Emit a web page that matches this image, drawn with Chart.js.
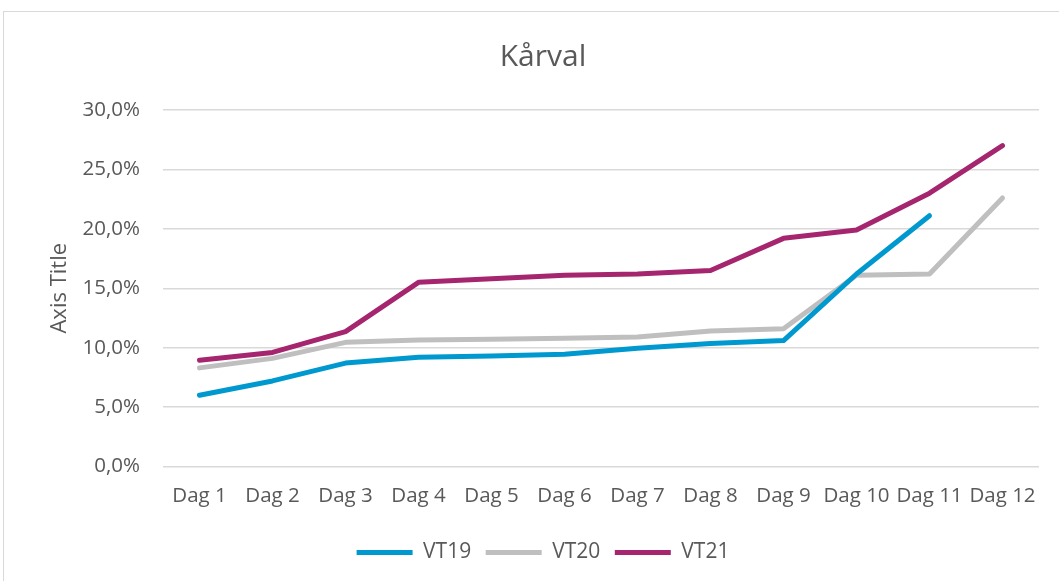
<!DOCTYPE html>
<html>
<head>
<meta charset="utf-8">
<script src="https://cdn.jsdelivr.net/npm/chart.js@4"></script>
<style>
  html,body{margin:0;padding:0;background:#fff;}
  #wrap{position:relative;width:1059px;height:581px;overflow:hidden;}
  #frame{position:absolute;left:3px;top:11px;width:1100px;height:600px;border:1px solid #d9d9d9;box-sizing:border-box;}
  canvas{position:absolute;left:0;top:0;}
</style>
</head>
<body>
<div id="wrap">
  <div id="frame"></div>
  <canvas id="c" width="1090" height="581"></canvas>
</div>
<script>
const categories = ["Dag 1","Dag 2","Dag 3","Dag 4","Dag 5","Dag 6","Dag 7","Dag 8","Dag 9","Dag 10","Dag 11","Dag 12"];
const vt19 = [6.0, 7.2, 8.7, 9.2, 9.3, 9.45, 9.95, 10.35, 10.6, 16.2, 21.1, null];
const vt20 = [8.3, 9.1, 10.45, 10.65, 10.7, 10.8, 10.9, 11.4, 11.6, 16.1, 16.2, 22.6];
const vt21 = [8.95, 9.6, 11.35, 15.5, 15.8, 16.1, 16.2, 16.5, 19.2, 19.9, 23.0, 27.0];
const seriesNames = ["VT19","VT20","VT21"];
const colors = ["#0099cf","#bfbfbf","#a5256e"];
const yTicks = [0,5,10,15,20,25,30];

const font = "'Open Sans', 'Liberation Sans', sans-serif";
const txt = "#595959";

new Chart(document.getElementById('c'), {
  type: 'line',
  data: {
    labels: categories,
    datasets: [vt19, vt20, vt21].map((d,i)=>({
      label: seriesNames[i],
      data: d,
      borderColor: colors[i],
      backgroundColor: colors[i],
      borderWidth: 5,
      pointRadius: 0,
      pointStyle: 'line',
      tension: 0,
      borderCapStyle: 'round',
      borderJoinStyle: 'round',
      fill: false
    }))
  },
  options: {
    responsive: false,
    animation: false,
    devicePixelRatio: 1,
    layout: { padding: { left: 47, right: 51, top: 0, bottom: 8 } },
    plugins: {
      title: {
        display: true,
        text: 'Kårval',
        color: txt,
        font: { family: font, size: 30, weight: 'normal' },
        padding: { top: 39, bottom: 35 }
      },
      legend: {
        position: 'bottom',
        labels: {
          color: txt,
          font: { family: font, size: 21 },
          usePointStyle: true,
          pointStyle: 'line',
          pointStyleWidth: 56,
          padding: 14.5
        }
      },
      tooltip: { enabled: false }
    },
    scales: {
      x: {
        offset: true,
        grid: { display: false, drawTicks: false },
        border: { display: false },
        ticks: { color: txt, font: { family: font, size: 20.5 }, padding: 17, maxRotation: 0, autoSkip: false },
        afterFit: (s) => { s.height = 61; }
      },
      y: {
        min: 0, max: 30,
        afterBuildTicks: (axis) => { axis.ticks = yTicks.map(v => ({ value: v })); },
        grid: { color: '#d9d9d9', lineWidth: 1.5, drawTicks: false },
        border: { display: false },
        ticks: {
          color: txt, font: { family: font, size: 20.5 }, padding: 23,
          callback: (v) => v.toFixed(1).replace('.', ',') + '%'
        },
        title: {
          display: true, text: 'Axis Title', color: txt,
          font: { family: font, size: 22 }, padding: { top: 0, bottom: 0 }
        },
        afterFit: (s) => { s.width = 116; }
      }
    }
  }
});
</script>
</body>
</html>
